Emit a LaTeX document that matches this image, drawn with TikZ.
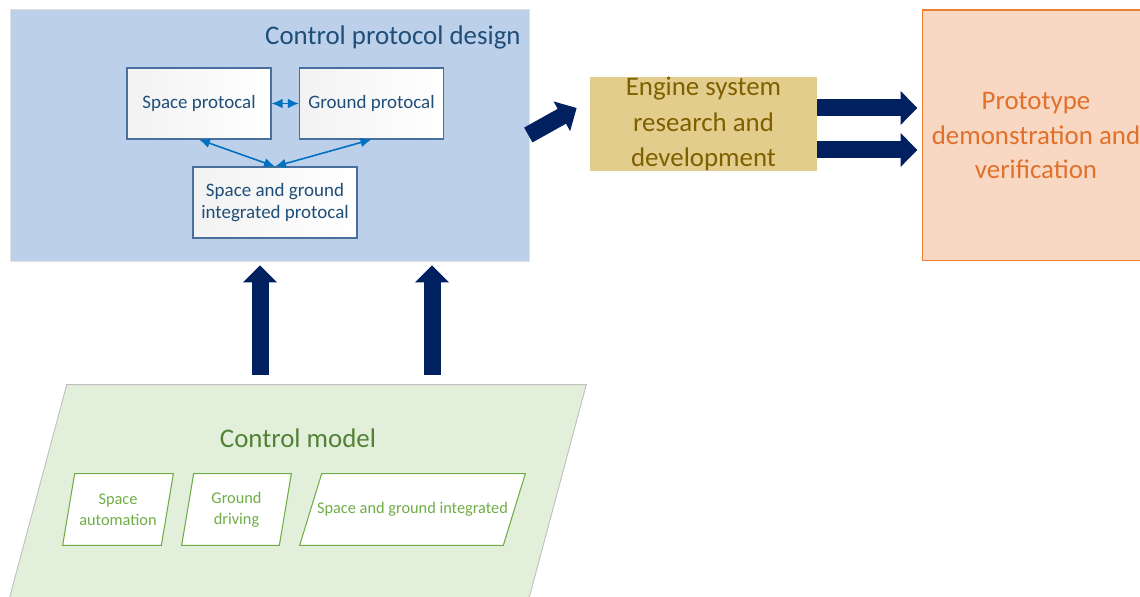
\documentclass[tikz,border=0pt]{standalone}
\usepackage{fontspec}
\setmainfont{Carlito}
\usetikzlibrary{arrows.meta,backgrounds,calc}

\definecolor{navy}{HTML}{002060}
\definecolor{panelblue}{HTML}{BDD0E9}
\definecolor{titleblue}{HTML}{1F4E79}
\definecolor{boxline}{HTML}{4A6F9C}
\definecolor{linkblue}{HTML}{0070C0}
\definecolor{gold}{HTML}{E2CD8C}
\definecolor{olive}{HTML}{7F6000}
\definecolor{peach}{HTML}{F8D8C2}
\definecolor{orange}{HTML}{ED7D31}
\definecolor{orangetext}{HTML}{E1702C}
\definecolor{mint}{HTML}{E2EFDA}
\definecolor{leaf}{HTML}{548235}
\definecolor{lightleaf}{HTML}{70AD47}

\begin{document}
\begin{tikzpicture}[x=0.02cm, y=-0.02cm,
		panel/.style={fill=panelblue, draw=black!12, minimum width=10.38cm, minimum height=5.04cm},
		proto/.style={draw=boxline, line width=0.6pt, left color=black!5, right color=white, text=titleblue, minimum height=1.42cm, align=center, inner sep=1pt, font=\fontsize{10.8}{12.3}\selectfont},
		heading/.style={inner sep=0pt, font=\fontsize{15.3}{18}\selectfont},
		engine/.style={fill=gold, minimum width=4.54cm, minimum height=1.88cm, inner sep=0pt, align=center, text=olive, font=\fontsize{15.3}{20.2}\selectfont},
		demo/.style={fill=peach, draw=orange, line width=0.6pt, minimum width=4.56cm, minimum height=5.02cm, align=center, text=orangetext, font=\fontsize{15.3}{19.9}\selectfont},
		mod/.style={minimum height=1.42cm, align=center, text=lightleaf, inner sep=1pt, font=\fontsize{9.3}{12}\selectfont},
		modelshape/.style={fill=mint, draw=black!25, line width=0.5pt},
		modshape/.style={fill=white, draw=lightleaf, line width=0.6pt},
		link/.style={draw=linkblue, line width=0.9pt, <->},
		bigarrow/.style={draw=navy, line width=0.34cm, -{Triangle[length=0.34cm, width=0.66cm]}},
		>={Latex[length=2.2mm, width=1.9mm]}
	]
	\useasboundingbox (0,0) rectangle (1140,597);
	\clip (0,0) rectangle (1140,597);

	% design stage
	\node[panel] (design) at (269.5,135) {};
	\node[heading, anchor=east, text=titleblue] (designtitle) at (521,37) {Control protocol design};
	\node[proto, minimum width=2.88cm] (space) at (199,103.5) {Space protocal};
	\node[proto, minimum width=2.88cm] (ground) at (371.5,103.5) {Ground protocal};
	\node[proto, minimum width=3.28cm] (integ) at (275,202.5) {Space and ground\\integrated protocal};

	\draw[link] (space) -- (ground);
	\draw[link] (space.south) -- (integ.north);
	\draw[link] (ground.south) -- (integ.north);

	% later stages
	\node[engine] (engine) at (703.5,124) {Engine system\\research and\\development};
	\node[demo] (demo) at (1036,135.5) {Prototype\\demonstration and\\verification};

	% control model, slanted outlines go behind the text
	\node[minimum width=11.644cm, minimum height=4.7cm] (model) at (294.9,502.5) {};
	\node[heading, text=leaf] (modeltitle) at (298,438) {Control model};
	\node[mod, minimum width=2.2cm] (auto) at (118,509.5) {Space\\automation};
	\node[mod, minimum width=2.18cm] (drive) at (236.5,509.5) {Ground\\driving};
	\node[mod, minimum width=4.5cm] (joint) at (412.5,509.5) {Space and ground integrated};
	\begin{scope}[on background layer]
		\draw[modelshape] (model.south west) -- ($(model.north west)+(63.2,0)$) -- (model.north east) -- ($(model.south east)+(-63.2,0)$) -- cycle;
		\foreach \n/\s in {auto/12, drive/12, joint/22}
			\draw[modshape] (\n.south west) -- ($(\n.north west)+(\s,0)$) -- (\n.north east) -- ($(\n.south east)+(-\s,0)$) -- cycle;
	\end{scope}

	% block arrows
	\coordinate (up1) at ($(design.south)+(-9.5,4)$);
	\coordinate (up2) at ($(design.south)+(162.5,4)$);
	\draw[bigarrow] ($(model.north -| up1)+(0,-10)$) -- (up1);
	\draw[bigarrow] ($(model.north -| up2)+(0,-10)$) -- (up2);
	\draw[bigarrow] ($(design.east)+(-1,0)$) -- ($(engine.west)+(-13,-16)$);
	\draw[bigarrow] ($(engine.east)+(0,-16)$) -- ($(demo.west |- engine.east)+(-4,-16)$);
	\draw[bigarrow] ($(engine.east)+(0,26)$) -- ($(demo.west |- engine.east)+(-4,26)$);
\end{tikzpicture}
\end{document}
